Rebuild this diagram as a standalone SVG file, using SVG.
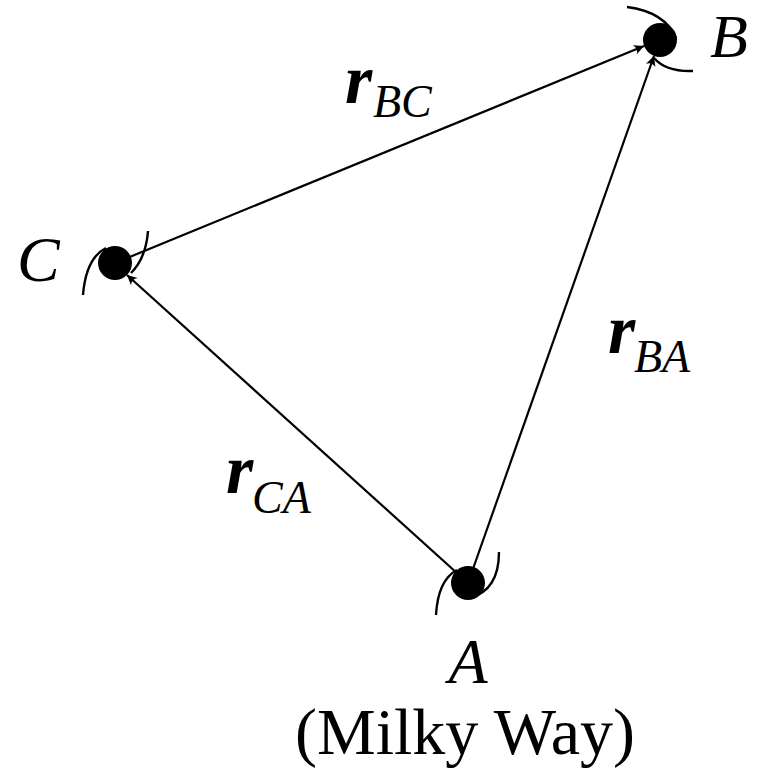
<svg xmlns="http://www.w3.org/2000/svg" width="763" height="774" viewBox="0 0 763 774">
<style>
.edge{stroke:#000;stroke-width:2.2;fill:none}
.spin{stroke:#000;stroke-width:2.4;fill:none}
.dot{fill:#000}
.lbl{font-family:"Liberation Serif","DejaVu Serif",serif;font-style:italic;font-size:64px;fill:#000}
.plain{font-family:"Liberation Serif","DejaVu Serif",serif;font-size:66px;fill:#000}
.vec{font-family:"Liberation Serif","DejaVu Serif",serif;font-style:italic;font-weight:bold;font-size:70px;fill:#000}
.sub{font-family:"Liberation Serif","DejaVu Serif",serif;font-style:italic;font-size:46px;fill:#000}
</style>
<defs>
<marker id="arr" viewBox="-11 -6 12 12" refX="0" refY="0" markerWidth="12" markerHeight="12" markerUnits="userSpaceOnUse" orient="auto">
<path d="M0,0 L-10,-5 Q-6,0 -10,5 Z" fill="#000"/>
</marker>
</defs>
<g id="connectors">
<line class="edge" x1="115" y1="263" x2="644" y2="46" marker-end="url(#arr)"/>
<line class="edge" x1="468" y1="583" x2="654" y2="56" marker-end="url(#arr)"/>
<line class="edge" x1="468" y1="583" x2="127" y2="275" marker-end="url(#arr)"/>
<text class="vec" x="345" y="103">r</text><text class="sub" x="373" y="117">BC</text>
<text class="vec" x="608" y="353">r</text><text class="sub" x="634" y="372">BA</text>
<text class="vec" x="226" y="493">r</text><text class="sub" x="252" y="513">CA</text>
</g>
<g id="node-B">
<circle class="dot" cx="660" cy="40" r="17"/>
<path class="spin" d="M627,7 Q665,12 676,38"/>
<path class="spin" d="M654,58 Q666,72 693,71"/>
<text class="lbl" x="710" y="57" style="font-size:62px">B</text>
</g>
<g id="node-C">
<circle class="dot" cx="115" cy="263" r="17"/>
<path class="spin" d="M83,295 Q86,258 106,248"/>
<path class="spin" d="M148,231 Q146,258 131,273"/>
<text class="lbl" x="17" y="281">C</text>
</g>
<g id="node-A">
<circle class="dot" cx="468" cy="583" r="17"/>
<path class="spin" d="M436,615 Q438,580 457,570"/>
<path class="spin" d="M499,552 Q499,590 470,598"/>
<text class="lbl" x="468" y="683" text-anchor="middle">A</text>
<text class="plain" x="465" y="754" text-anchor="middle">(Milky Way)</text>
</g>
</svg>
